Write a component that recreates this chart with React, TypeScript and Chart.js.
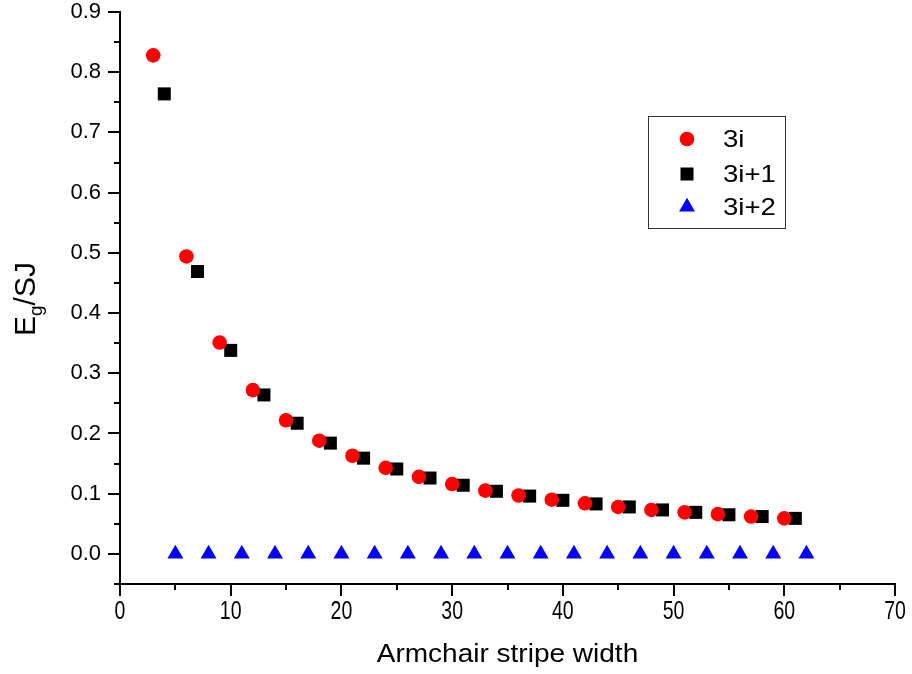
import React, { useEffect, useRef } from 'react';
import { Chart, registerables } from 'chart.js';
import { drawPoint } from 'chart.js/helpers';

Chart.register(...registerables);

// ---- data ----
const seriesLabels = ['3i', '3i+1', '3i+2'];

const x3i = [3, 6, 9, 12, 15, 18, 21, 24, 27, 30, 33, 36, 39, 42, 45, 48, 51, 54, 57, 60];
const y3i = [0.828, 0.494, 0.351, 0.272, 0.222, 0.188, 0.163, 0.143, 0.128, 0.116, 0.105, 0.097, 0.090, 0.084, 0.078, 0.073, 0.069, 0.066, 0.062, 0.059];

const x3i1 = [4, 7, 10, 13, 16, 19, 22, 25, 28, 31, 34, 37, 40, 43, 46, 49, 52, 55, 58, 61];
const y3i1 = [0.764, 0.469, 0.338, 0.264, 0.217, 0.184, 0.159, 0.141, 0.126, 0.114, 0.104, 0.096, 0.089, 0.083, 0.078, 0.073, 0.069, 0.065, 0.062, 0.059];

const x3i2 = [5, 8, 11, 14, 17, 20, 23, 26, 29, 32, 35, 38, 41, 44, 47, 50, 53, 56, 59, 62];
const y3i2 = [0, 0, 0, 0, 0, 0, 0, 0, 0, 0, 0, 0, 0, 0, 0, 0, 0, 0, 0, 0];

const xMajorTicks = [0, 10, 20, 30, 40, 50, 60, 70];
const xMinorTicks = [5, 15, 25, 35, 45, 55, 65];
const yMajorTicks = [0.0, 0.1, 0.2, 0.3, 0.4, 0.5, 0.6, 0.7, 0.8, 0.9];
const yMinorTicks = [-0.05, 0.05, 0.15, 0.25, 0.35, 0.45, 0.55, 0.65, 0.75, 0.85];

const xTitle = 'Armchair stripe width';
const yTitleMain = 'E';
const yTitleSub = 'g';
const yTitleRest = '/SJ';

const FONT = '"Liberation Sans", Arial, Helvetica, sans-serif';

const toPoints = (xs: number[], ys: number[]) => xs.map((x, i) => ({ x, y: ys[i] }));

// draws text horizontally scaled around its anchor
function stretchedText(ctx: CanvasRenderingContext2D, text: string, x: number, y: number, sx: number) {
  ctx.save();
  ctx.translate(x, y);
  ctx.scale(sx, 1);
  ctx.fillText(text, 0, 0);
  ctx.restore();
}

const decorPlugin = {
  id: 'decor',
  afterDraw(chart: any) {
    const ctx: CanvasRenderingContext2D = chart.ctx;
    const xs = chart.scales.x;
    const ys = chart.scales.y;
    const ca = chart.chartArea;
    ctx.save();
    ctx.strokeStyle = '#000';
    ctx.lineWidth = 2;
    // minor ticks
    ctx.beginPath();
    xMinorTicks.forEach((v) => {
      const px = Math.round(xs.getPixelForValue(v));
      ctx.moveTo(px, ca.bottom);
      ctx.lineTo(px, ca.bottom + 6);
    });
    yMinorTicks.forEach((v) => {
      const py = Math.round(ys.getPixelForValue(v));
      ctx.moveTo(ca.left, py);
      ctx.lineTo(ca.left - 6, py);
    });
    ctx.stroke();

    ctx.fillStyle = '#000';

    // x tick labels (condensed, as in the reference)
    ctx.font = `25px ${FONT}`;
    ctx.textAlign = 'center';
    ctx.textBaseline = 'middle';
    xMajorTicks.forEach((v) => {
      stretchedText(ctx, String(v), xs.getPixelForValue(v), ca.bottom + 28, 0.78);
    });

    // x title
    ctx.font = `25px ${FONT}`;
    ctx.textAlign = 'center';
    ctx.textBaseline = 'middle';
    stretchedText(ctx, xTitle, (ca.left + ca.right) / 2, ca.bottom + 71, 1.12);

    // y title with subscript
    ctx.save();
    ctx.translate(ca.left - 96, (ca.top + ca.bottom) / 2 + 1);
    ctx.rotate(-Math.PI / 2);
    const bigFont = `30px ${FONT}`;
    const smallFont = `19px ${FONT}`;
    ctx.font = bigFont;
    const wE = ctx.measureText(yTitleMain).width;
    const wR = ctx.measureText(yTitleRest).width;
    ctx.font = smallFont;
    const wg = ctx.measureText(yTitleSub).width;
    const total = wE + wg + wR;
    let cx = -total / 2;
    ctx.textAlign = 'left';
    ctx.textBaseline = 'alphabetic';
    const base = 11;
    ctx.font = bigFont;
    ctx.fillText(yTitleMain, cx, base);
    cx += wE;
    ctx.font = smallFont;
    ctx.fillText(yTitleSub, cx, base + 7);
    cx += wg;
    ctx.font = bigFont;
    ctx.fillText(yTitleRest, cx, base);
    ctx.restore();

    // legend
    const lx = ca.left + 528;
    const ly = ca.top + 104;
    const lw = 137;
    const lh = 112;
    ctx.lineWidth = 1;
    ctx.strokeStyle = '#333';
    ctx.strokeRect(lx + 0.5, ly + 0.5, lw, lh);
    const rows = [23, 58, 91];
    chart.data.datasets.forEach((ds: any, i: number) => {
      ctx.fillStyle = ds.backgroundColor;
      ctx.strokeStyle = ds.backgroundColor;
      drawPoint(ctx, { pointStyle: ds.pointStyle, radius: ds.pointRadius, borderWidth: 0, rotation: 0 } as any, lx + 39, ly + rows[i]);
      ctx.fillStyle = '#000';
      ctx.font = `24px ${FONT}`;
      ctx.textAlign = 'left';
      ctx.textBaseline = 'middle';
      stretchedText(ctx, ds.label, lx + 75, ly + rows[i] + 1, 1.15);
    });
    ctx.restore();
  },
};

export default function App() {
  const ref = useRef<HTMLCanvasElement | null>(null);
  useEffect(() => {
    document.body.style.margin = '0';
    const canvas = ref.current;
    if (!canvas) return;
    const chart = new Chart(canvas, {
      type: 'scatter',
      data: {
        datasets: [
          {
            label: seriesLabels[0],
            data: toPoints(x3i, y3i),
            pointStyle: 'circle',
            pointRadius: 7.3,
            backgroundColor: '#ff0000',
            borderWidth: 0,
          },
          {
            label: seriesLabels[1],
            data: toPoints(x3i1, y3i1),
            pointStyle: 'rect',
            pointRadius: 9.2,
            backgroundColor: '#000000',
            borderWidth: 0,
          },
          {
            label: seriesLabels[2],
            data: toPoints(x3i2, y3i2),
            pointStyle: 'triangle',
            pointRadius: 9.2,
            backgroundColor: '#0000ff',
            borderWidth: 0,
          },
        ],
      },
      options: {
        responsive: false,
        animation: false,
        events: [],
        layout: { padding: { top: 12, right: 17, left: 0, bottom: 0 } },
        plugins: {
          legend: { display: false },
          tooltip: { enabled: false },
          title: { display: false },
        },
        scales: {
          x: {
            type: 'linear',
            min: 0,
            max: 70,
            afterBuildTicks: (scale: any) => {
              scale.ticks = xMajorTicks.map((v) => ({ value: v }));
            },
            afterFit: (scale: any) => {
              scale.height = 90;
              scale.paddingLeft = 0;
              scale.paddingRight = 0;
            },
            ticks: { display: false },
            grid: { drawOnChartArea: false, drawTicks: true, tickLength: 12, color: '#000', lineWidth: 2 },
            border: { display: true, color: '#000', width: 2 },
          },
          y: {
            type: 'linear',
            min: -0.05,
            max: 0.9,
            afterBuildTicks: (scale: any) => {
              scale.ticks = yMajorTicks.map((v) => ({ value: v }));
            },
            afterFit: (scale: any) => {
              scale.width = 120;
              scale.paddingTop = 0;
              scale.paddingBottom = 0;
            },
            ticks: {
              color: '#000',
              font: { family: FONT, size: 22 },
              padding: 7,
              autoSkip: false,
              callback: (v: any) => Number(v).toFixed(1),
            },
            grid: { drawOnChartArea: false, drawTicks: true, tickLength: 12, color: '#000', lineWidth: 2 },
            border: { display: true, color: '#000', width: 2 },
          },
        },
      },
      plugins: [decorPlugin],
    } as any);
    return () => chart.destroy();
  }, []);
  return <canvas ref={ref} width={912} height={674} style={{ display: 'block' }} />;
}
